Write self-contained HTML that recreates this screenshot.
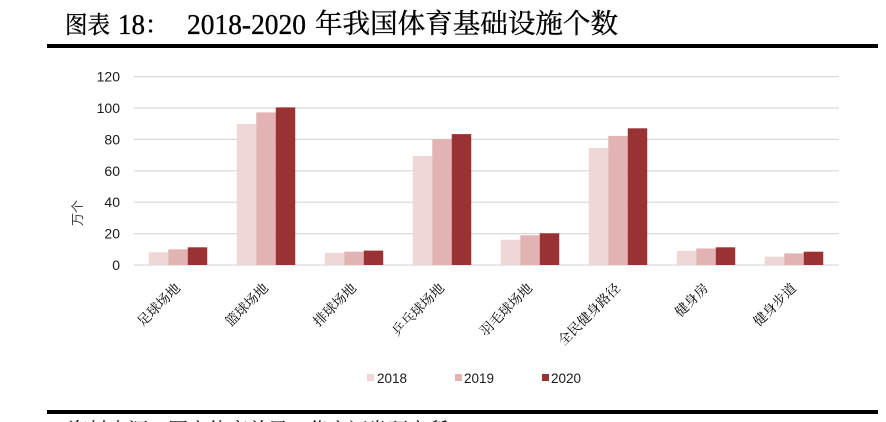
<!DOCTYPE html>
<html>
<head>
<meta charset="utf-8">
<style>
  html,body{margin:0;padding:0;background:#fff;}
  body{width:886px;height:422px;overflow:hidden;position:relative;}
  svg{position:absolute;left:0;top:0;}
</style>
</head>
<body>
<svg width="886" height="422" viewBox="0 0 886 422" xmlns="http://www.w3.org/2000/svg">
  <!-- Title -->
  <g stroke="#000" stroke-width="0.35">
  <text x="65" y="33" font-family="'Noto Serif CJK SC', serif" font-size="24" textLength="45" lengthAdjust="spacingAndGlyphs" fill="#000">图表</text>
  <text x="118" y="34" font-family="'Liberation Serif', serif" font-size="29" textLength="27" lengthAdjust="spacingAndGlyphs" fill="#000">18</text>
  <text x="145" y="33" font-family="'Noto Serif CJK SC', serif" font-size="24" fill="#000">：</text>
  <text x="187" y="34" font-family="'Liberation Serif', serif" font-size="29" textLength="119" lengthAdjust="spacingAndGlyphs" fill="#000">2018-2020</text>
  <text x="315" y="33" font-family="'Noto Serif CJK SC', serif" font-size="27" textLength="303" lengthAdjust="spacingAndGlyphs" fill="#000">年我国体育基础设施个数</text>
  </g>
  <rect x="47" y="44" width="831" height="4" fill="#000"/>

  <!-- Gridlines -->
  <g stroke="#d9d9d9" stroke-width="1.2">
    <line x1="134" y1="76.6" x2="839" y2="76.6"/>
    <line x1="134" y1="108" x2="839" y2="108"/>
    <line x1="134" y1="139.4" x2="839" y2="139.4"/>
    <line x1="134" y1="170.8" x2="839" y2="170.8"/>
    <line x1="134" y1="202.2" x2="839" y2="202.2"/>
    <line x1="134" y1="233.6" x2="839" y2="233.6"/>
    <line x1="134" y1="265" x2="839" y2="265"/>
  </g>

  <!-- Y tick labels -->
  <g font-family="'Liberation Sans', sans-serif" font-size="14" fill="#1a1a1a" text-anchor="end">
    <text x="120" y="81.6">120</text>
    <text x="120" y="113">100</text>
    <text x="120" y="144.4">80</text>
    <text x="120" y="175.8">60</text>
    <text x="120" y="207.2">40</text>
    <text x="120" y="238.6">20</text>
    <text x="120" y="270">0</text>
  </g>

  <!-- Y axis title -->
  <text transform="translate(82,213) rotate(-90)" text-anchor="middle" font-family="'Noto Sans CJK SC', sans-serif" font-size="13" fill="#404040">万个</text>

  <!-- Bars -->
  <g>
    <rect x="148.75" y="252.3" width="19.5" height="12.7" fill="#f0d7d7"/>
    <rect x="168.25" y="249.3" width="19.5" height="15.7" fill="#e3b3b3"/>
    <rect x="187.75" y="247.3" width="19.5" height="17.7" fill="#993333"/>
    <rect x="236.75" y="124.0" width="19.5" height="141.0" fill="#f0d7d7"/>
    <rect x="256.25" y="112.4" width="19.5" height="152.6" fill="#e3b3b3"/>
    <rect x="275.75" y="107.4" width="19.5" height="157.6" fill="#993333"/>
    <rect x="324.75" y="252.8" width="19.5" height="12.2" fill="#f0d7d7"/>
    <rect x="344.25" y="251.7" width="19.5" height="13.3" fill="#e3b3b3"/>
    <rect x="363.75" y="250.6" width="19.5" height="14.4" fill="#993333"/>
    <rect x="412.75" y="156.0" width="19.5" height="109.0" fill="#f0d7d7"/>
    <rect x="432.25" y="139.1" width="19.5" height="125.9" fill="#e3b3b3"/>
    <rect x="451.75" y="134.1" width="19.5" height="130.9" fill="#993333"/>
    <rect x="500.75" y="239.7" width="19.5" height="25.3" fill="#f0d7d7"/>
    <rect x="520.25" y="235.3" width="19.5" height="29.7" fill="#e3b3b3"/>
    <rect x="539.75" y="233.3" width="19.5" height="31.7" fill="#993333"/>
    <rect x="588.75" y="148.0" width="19.5" height="117.0" fill="#f0d7d7"/>
    <rect x="608.25" y="135.9" width="19.5" height="129.1" fill="#e3b3b3"/>
    <rect x="627.75" y="128.3" width="19.5" height="136.7" fill="#993333"/>
    <rect x="676.75" y="250.9" width="19.5" height="14.1" fill="#f0d7d7"/>
    <rect x="696.25" y="248.5" width="19.5" height="16.5" fill="#e3b3b3"/>
    <rect x="715.75" y="247.3" width="19.5" height="17.7" fill="#993333"/>
    <rect x="764.75" y="256.7" width="19.5" height="8.3" fill="#f0d7d7"/>
    <rect x="784.25" y="253.4" width="19.5" height="11.6" fill="#e3b3b3"/>
    <rect x="803.75" y="251.7" width="19.5" height="13.3" fill="#993333"/>
  </g>

  <!-- Category labels -->
  <g font-family="'Noto Serif CJK SC', serif" font-size="13.5" fill="#000" text-anchor="end">
    <text transform="translate(181,289) rotate(-45)">足球场地</text>
    <text transform="translate(269,289) rotate(-45)">篮球场地</text>
    <text transform="translate(357,289) rotate(-45)">排球场地</text>
    <text transform="translate(445,289) rotate(-45)">乒乓球场地</text>
    <text transform="translate(533,289) rotate(-45)">羽毛球场地</text>
    <text transform="translate(621,289) rotate(-45)">全民健身路径</text>
    <text transform="translate(709,289) rotate(-45)">健身房</text>
    <text transform="translate(797,289) rotate(-45)">健身步道</text>
  </g>

  <!-- Legend -->
  <rect x="367" y="374" width="7" height="7" fill="#f0d7d7"/>
  <rect x="455" y="374" width="7" height="7" fill="#e3b3b3"/>
  <rect x="542" y="374" width="7" height="7" fill="#993333"/>
  <g font-family="'Liberation Sans', sans-serif" font-size="14" fill="#1a1a1a">
    <text x="377" y="383" textLength="30" lengthAdjust="spacingAndGlyphs">2018</text>
    <text x="464" y="383" textLength="30" lengthAdjust="spacingAndGlyphs">2019</text>
    <text x="551" y="383" textLength="30" lengthAdjust="spacingAndGlyphs">2020</text>
  </g>

  <!-- Bottom rule -->
  <rect x="47" y="410" width="831" height="4" fill="#000"/>
  <text x="68" y="437" font-family="'Noto Serif CJK SC', serif" font-size="20" fill="#000">资料来源：国家体育总局，华安证券研究所</text>
</svg>
</body>
</html>
